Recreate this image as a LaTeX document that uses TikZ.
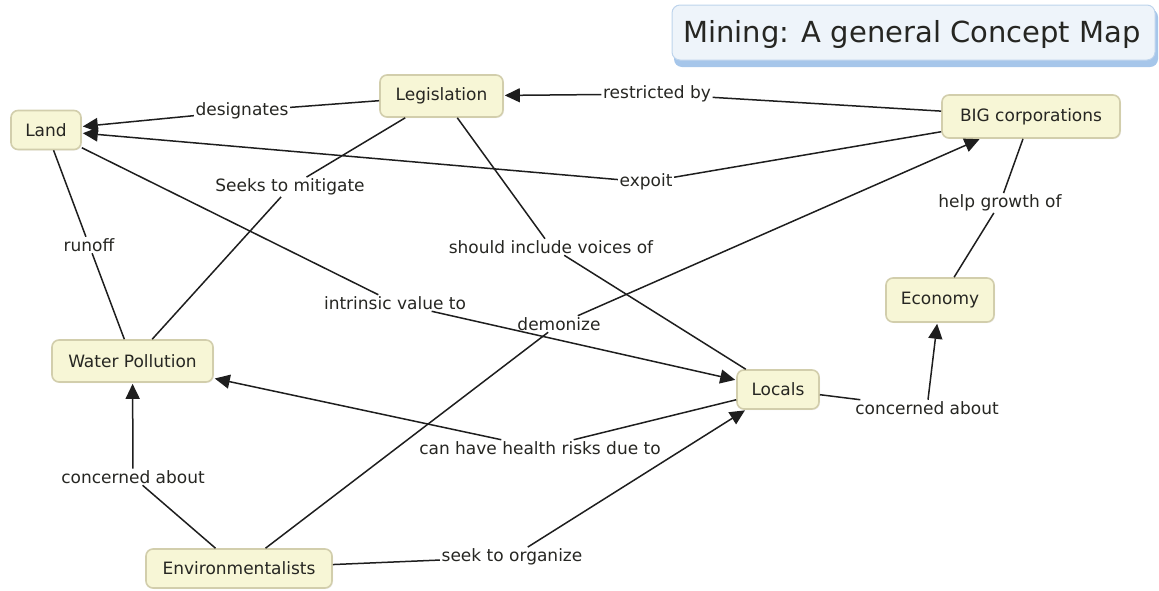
\documentclass[tikz,border=0pt]{standalone}
\usepackage{fontspec}
\setmainfont{DejaVu Sans}
\usetikzlibrary{arrows.meta,shadows}
\definecolor{nodefill}{HTML}{F7F6D6}
\definecolor{nodeline}{HTML}{D2CEAC}
\definecolor{ink}{HTML}{1E1E1E}
\definecolor{txt}{HTML}{262622}
\definecolor{titlefill}{HTML}{EEF4FA}
\definecolor{titleline}{HTML}{BED4EC}
\definecolor{titleshadow}{HTML}{A6C6EA}
\begin{document}
\begin{tikzpicture}[x=1pt,y=-1pt,
 concept/.style={draw=nodeline, line width=1.6pt, fill=nodefill, rounded corners=7pt,
   font=\fontsize{17}{20}\selectfont, text=txt, inner sep=0pt, align=center,
   drop shadow={shadow xshift=1pt, shadow yshift=-1pt, fill=black!10}},
 lbl/.style={font=\fontsize{17}{20}\selectfont, text=txt, inner sep=1.5pt},
 link/.style={draw=ink, line width=1.5pt},
 arr/.style={link, -{Triangle[length=15pt,width=14pt]}, shorten >=1pt},
]
\useasboundingbox (0,0) rectangle (1159,590);

% title
\fill[titleshadow, rounded corners=8pt] (674,9) rectangle (1158,67);
\node[draw=titleline, line width=1pt, fill=titlefill, rounded corners=8pt,
  minimum width=483pt, minimum height=55pt, inner sep=0pt] (title) at (913.5,32.5) {};
\node[font=\fontsize{29}{34}\selectfont, anchor=base, text=txt, inner sep=0pt] (titletext) at (912,42) {Mining: A general Concept Map};

% concepts
\node[concept, minimum width=70pt, minimum height=39pt] (land) at (46,130) {Land};
\node[concept, minimum width=123pt, minimum height=42pt] (legis) at (441.5,96) {Legislation};
\node[concept, minimum width=178pt, minimum height=43pt] (big) at (1031,116.5) {BIG corporations};
\node[concept, minimum width=108pt, minimum height=44pt] (econ) at (940,300) {Economy};
\node[concept, minimum width=82pt, minimum height=39pt] (locals) at (778,389.5) {Locals};
\node[concept, minimum width=161pt, minimum height=42pt] (water) at (132.5,361) {Water Pollution};
\node[concept, minimum width=186pt, minimum height=39pt] (env) at (239,568.5) {Environmentalists};

% linking phrases
\node[lbl] (designates) at (242,111) {designates};
\node[lbl] (restricted) at (657,94) {restricted by};
\node[lbl] (expoit) at (646,182) {expoit};
\node[lbl] (seeks) at (290,187) {Seeks to mitigate};
\node[lbl] (runoff) at (89,245) {runoff};
\node[lbl] (should) at (551,247) {should include voices of};
\node[lbl] (help) at (1000,203) {help growth of};
\node[lbl] (intrinsic) at (395,303) {intrinsic value to};
\node[lbl] (demonize) at (559,324) {demonize};
\node[lbl] (concR) at (927,408) {concerned about};
\node[lbl] (health) at (540,448) {can have health risks due to};
\node[lbl] (concL) at (133,477) {concerned about};
\node[lbl] (organize) at (512,557) {seek to organize};

% connectors
\draw[link] (legis) -- (designates); \draw[arr] (designates) -- (land);
\draw[link] (big) -- (restricted); \draw[arr] (restricted) -- (legis);
\draw[link] (big) -- (expoit); \draw[arr] (expoit) -- (land);
\draw[link] (legis) -- (seeks); \draw[link] (seeks) -- (water);
\draw[link] (land) -- (runoff); \draw[link] (runoff) -- (water);
\draw[link] (legis) -- (should); \draw[link] (should) -- (locals);
\draw[link] (big) -- (help); \draw[link] (help) -- (econ);
\draw[link] (land) -- (intrinsic); \draw[arr] (intrinsic) -- (locals);
\draw[link] (env) -- (demonize); \draw[arr] (demonize) -- (big);
\draw[link] (locals) -- (concR); \draw[arr] (concR) -- (econ);
\draw[link] (locals) -- (health); \draw[arr] (health) -- (water);
\draw[link] (env) -- (concL); \draw[arr] (concL) -- (water);
\draw[link] (env) -- (organize); \draw[arr] (organize) -- (locals);
\end{tikzpicture}
\end{document}
